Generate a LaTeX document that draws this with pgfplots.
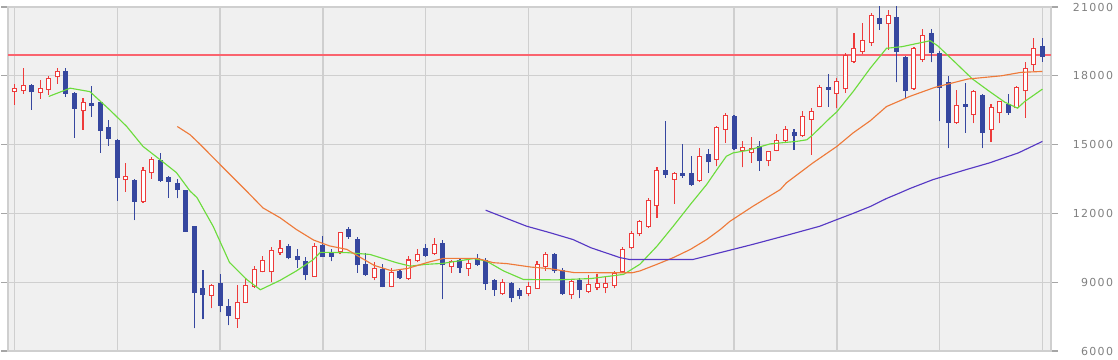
\documentclass[border=0pt]{standalone}
\usepackage{pgfplots}
\pgfplotsset{compat=1.18}
\usepackage{pgfplotstable}
\usepackage{fontspec}
\setmainfont{DejaVu Sans}
\newfontfamily\tickfont[LetterSpace=12]{DejaVu Sans}

\definecolor{upred}{HTML}{EE3B3B}
\definecolor{downblue}{HTML}{36479F}
\definecolor{magreen}{HTML}{6CDC3C}
\definecolor{maorange}{HTML}{EE7A3A}
\definecolor{mapurple}{HTML}{5638C4}
\definecolor{hlinered}{RGB}{250,100,110}
\definecolor{gridgray}{HTML}{CFCFCF}
\definecolor{plotbg}{HTML}{F0F0F0}
\definecolor{ticktext}{HTML}{808080}

\pgfplotstableread{
i O H L C
0 17290 17640 16740 17460
1 17320 18350 17220 17610
3 17260 17820 17000 17450
4 17390 18000 17170 17910
5 17930 18320 17650 18190
8 16450 17020 15650 16870
13 13450 14210 12950 13650
15 12500 14040 12470 13910
16 13740 14450 13520 14370
23 8410 8910 7860 8890
26 7410 8860 7020 8140
27 8110 9120 8080 8880
28 8800 9700 8760 9590
29 9440 10140 9430 9970
30 9430 10520 9010 10400
31 10260 10840 10190 10500
35 9240 10730 9230 10590
38 10300 11190 10210 11170
42 9190 9890 9090 9630
44 8800 9630 8780 9450
46 9120 10150 9100 9990
47 9910 10430 9880 10230
49 10210 10940 10190 10650
51 9660 9950 9420 9920
53 9560 9950 9280 9850
57 8470 9140 8450 8990
60 8500 8990 8380 8840
61 8720 9940 8710 9810
62 9660 10330 9490 10220
65 8420 9120 8280 9050
67 8580 9300 8520 8910
68 8760 9340 8650 8980
69 8760 9210 8520 8980
70 8850 9490 8730 9420
71 9430 10520 9420 10460
72 10470 11240 10430 11160
73 11080 11730 11010 11660
74 11400 12680 11370 12600
75 12310 14010 11810 13910
77 13470 13820 12430 13770
80 13400 14850 13370 14490
82 14340 15820 14050 15750
83 15650 16380 15070 16300
85 14710 15140 14010 14880
86 14640 15310 14200 14850
88 14270 14560 14050 14710
89 14740 15460 14710 15180
90 15140 15790 15130 15690
92 15360 16450 15350 16230
93 16080 16590 14560 16480
94 16660 17610 16630 17510
96 17220 17900 16590 17780
97 17410 18990 17250 18910
98 18620 19860 18550 19230
99 19030 20300 18940 19580
100 19420 20730 19300 20650
102 20270 20860 19130 20650
105 17420 19270 17390 19200
106 18690 20030 18620 19780
110 15940 17360 15910 16740
112 16300 17390 15940 17320
114 15650 16780 15100 16660
115 16380 16920 15940 16880
117 16590 17560 16580 17510
118 17320 18580 16160 18330
119 18480 19640 18190 19200
}\upcandles

\pgfplotstableread{
i O H L C
2 17590 17630 16520 17280
6 18190 18320 17080 17220
7 17240 17300 15300 16560
9 16820 17540 16210 16670
10 16870 16910 14650 15610
11 15780 16080 14950 15260
12 15210 15260 12560 13560
14 13470 13500 11710 12500
17 14340 14630 13390 13410
18 13580 13650 12690 13370
19 13320 13500 12650 13020
20 13000 13040 11190 11210
21 11430 11450 6990 8520
22 8750 9540 7380 8450
24 8970 9340 7690 7970
25 7960 8280 7120 7530
32 10580 10670 9990 10040
33 10150 10460 9630 9950
34 9920 10080 9090 9310
36 10630 11020 10110 10120
37 10290 10460 9910 10120
39 11340 11410 10890 10970
40 10890 10990 9420 9730
41 9800 10290 9280 9310
43 9570 9780 8780 8790
45 9490 9560 9120 9170
48 10470 10660 10120 10140
50 10690 10820 8250 9730
52 9950 10020 9420 9630
54 10040 10210 9710 9750
55 9970 10070 8670 8910
56 9080 9120 8400 8650
58 8980 9020 8120 8330
59 8650 8760 8250 8380
63 10210 10290 9420 9470
64 9550 9630 8450 8470
66 9100 9200 8300 8670
76 13910 16010 13550 13690
78 13770 15040 13550 13620
79 13740 14490 13210 13260
81 14590 14810 13770 14230
84 16230 16280 14780 14820
87 14920 15140 13870 14270
91 15550 15680 14780 15360
95 17520 18090 16650 17390
101 20510 21080 20000 20240
103 20550 21080 17710 19040
104 18840 18870 16980 17320
107 19860 20030 18580 18990
108 18990 19060 16010 17460
109 17750 17970 14850 15940
111 16780 17680 15510 16640
113 17170 17200 14850 15510
116 16780 17220 16300 16380
120 19320 19640 18620 18840
}\downcandles

\pgfplotstableread{
i v
4 17100
6.5 17460
8.8 17310
11.1 16520
13.1 15790
15 14920
17 14340
18.9 13780
20.5 12970
21.3 12690
23.2 11430
25.1 9860
27.1 9120
28.7 8670
31 9080
32.9 9490
34.9 9990
35.7 10300
36.8 10300
38.8 10290
41.5 10210
44.6 9850
46.2 9700
48.1 9780
50 9820
53.6 10030
55.1 9920
57.1 9490
59.4 9120
63.3 9100
67.3 9160
71.1 9340
73 9780
75 10570
76.9 11440
78.9 12390
80.8 13260
82 13910
83.1 14490
83.9 14640
85.5 14740
88.2 15030
91.3 15140
92.5 15210
93.2 15430
95.2 16160
96 16430
97.9 17310
99.9 18330
101.8 19200
103.6 19270
105.5 19420
106.9 19530
107.8 19300
109.8 18590
111.8 17870
113.7 17350
115.6 16850
117.1 16590
117.9 16870
120 17420
}\greenma

\pgfplotstableread{
i v
19 15790
20.5 15430
21.7 15000
24 14130
27.1 12970
29 12240
31 11810
32.9 11300
34.9 10840
36.8 10580
38.8 10430
40.1 10140
42 9730
44 9500
45.9 9600
48.1 9850
50.1 10040
54 10040
55.9 9850
57.5 9810
60.3 9660
62.5 9590
65.3 9420
70.4 9410
72.1 9410
73 9490
75 9780
76.9 10070
78.9 10430
80.8 10860
82.4 11300
83.5 11650
86.2 12310
89.4 13040
90.1 13330
93.2 14200
96 14920
97.9 15510
99.9 16040
101.8 16660
103.6 16950
104.5 17100
107.4 17490
111.3 17860
115.2 18000
117.5 18150
120 18190
}\orangema

\pgfplotstableread{
i v
55 12140
57.8 11730
59.8 11440
62.5 11160
65.2 10860
67.3 10500
70.7 10070
71.8 9990
79.2 9990
80.8 10140
82.4 10290
86.2 10650
90.1 11040
94 11440
96 11730
97.9 12000
99.9 12300
101.8 12650
103.4 12900
104.5 13080
107.2 13470
111.1 13910
113.8 14200
117.2 14640
120 15140
}\purplema

\pgfplotstableread{
i v
-0.76 18900
121 18900
}\hline

\pgfplotsset{candle/.style={only marks, mark size=0pt, mark options={draw=none, fill=none}, forget plot,
  error bars/y dir=plus, error bars/y explicit, error bars/error mark=none}}

\begin{document}
\begin{tikzpicture}[x=1pt,y=1pt]
\path[use as bounding box] (0,0) rectangle (838.5,270);
\begin{axis}[
  at={(6pt,6.75pt)}, anchor=south west,
  width=782.25pt, height=258pt, scale only axis,
  xmin=-0.76, xmax=121, ymin=6000, ymax=21000,
  axis background/.style={fill=plotbg},
  axis line style={draw=gridgray, line width=1pt},
  xtick={0,12,...,120}, xticklabels={}, xtick style={draw=none},
  ytick={6000,9000,...,21000},
  yticklabel pos=right,
  ytick style={draw=gray!70, line width=0.8pt},
  tick align=outside, major tick length=5.25pt,
  grid=major, major grid style={draw=gridgray, line width=1pt},
  scaled y ticks=false,
  /pgf/number format/assume math mode=true,
  /pgf/number format/1000 sep={},
  yticklabel style={anchor=east, inner sep=0pt, xshift=41.5pt,
    font=\tickfont\fontsize{8.25}{10}\selectfont, text=ticktext},
]
% reference line
\addplot[color=hlinered, solid, line width=1pt, no markers, forget plot] table[x=i, y=v] {\hline};
% wicks
\addplot[candle, error bars/error bar style={draw=upred, line width=0.85pt}]
  table[x=i, y=L, y error plus expr={\thisrow{H}-\thisrow{L}}] {\upcandles};
\addplot[candle, error bars/error bar style={draw=downblue, line width=0.85pt}]
  table[x=i, y=L, y error plus expr={\thisrow{H}-\thisrow{L}}] {\downcandles};
% bodies
\addplot[candle, error bars/error bar style={draw=upred, line width=3.75pt}]
  table[x=i, y=O, y error plus expr={\thisrow{C}-\thisrow{O}}] {\upcandles};
\addplot[candle, error bars/error bar style={draw=white, line width=2.25pt}]
  table[x=i, y expr={\thisrow{O}+44}, y error plus expr={max(\thisrow{C}-\thisrow{O}-88,0)}] {\upcandles};
\addplot[candle, error bars/error bar style={draw=downblue, line width=3.75pt}]
  table[x=i, y=C, y error plus expr={\thisrow{O}-\thisrow{C}}] {\downcandles};
% moving averages
\addplot[magreen, line width=0.85pt, mark=none] table[x=i, y=v] {\greenma};
\addplot[maorange, line width=0.85pt, mark=none] table[x=i, y=v] {\orangema};
\addplot[mapurple, line width=0.85pt, mark=none] table[x=i, y=v] {\purplema};
\end{axis}
\end{tikzpicture}
\end{document}
